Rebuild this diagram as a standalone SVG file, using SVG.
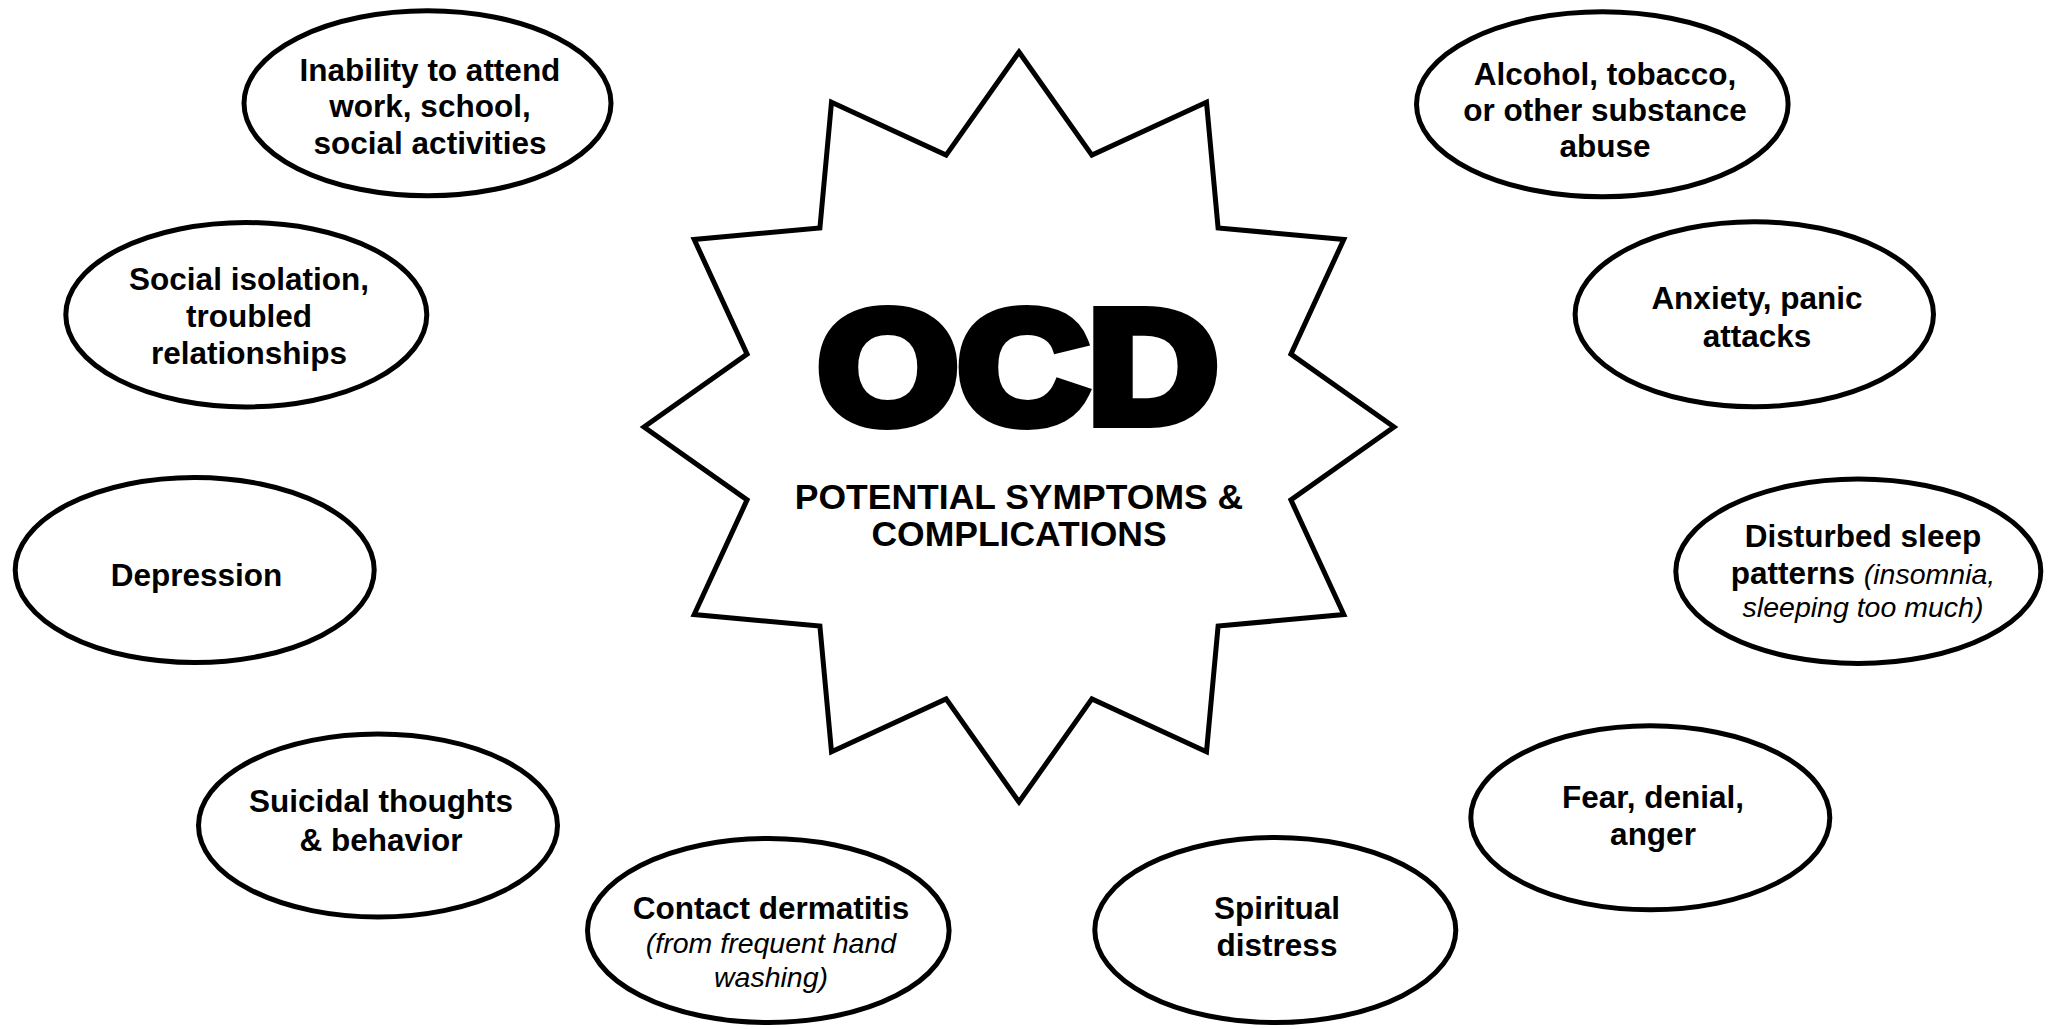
<svg xmlns="http://www.w3.org/2000/svg" width="2049" height="1029" viewBox="0 0 2049 1029">
<style>
.bg{fill:#ffffff}
.shape{fill:#ffffff;stroke:#000000;stroke-width:5;stroke-linejoin:miter}
.lbl{font-family:"Liberation Sans",Arial,sans-serif;font-weight:bold;font-size:31.5px;fill:#000000;text-anchor:middle}
.it{font-weight:normal;font-style:italic;font-size:28.5px}
.ocd{font-family:"Liberation Sans",Arial,sans-serif;font-weight:bold;font-size:160px;fill:#000000;stroke:#000000;stroke-width:12;stroke-linejoin:miter}
.sub{font-family:"Liberation Sans",Arial,sans-serif;font-weight:bold;font-size:35.5px;fill:#000000;text-anchor:middle}
</style>
<rect class="bg" x="0" y="0" width="2049" height="1029"/>
<g id="connectors"></g>
<g id="center">
<polygon class="shape" points="1019,52 1091.9,155.1 1206.5,102.2 1218.1,227.9 1343.8,239.5 1290.9,354.1 1394,427 1290.9,499.9 1343.8,614.5 1218.1,626.1 1206.5,751.8 1091.9,698.9 1019,802 946.1,698.9 831.5,751.8 819.9,626.1 694.2,614.5 747.1,499.9 644,427 747.1,354.1 694.2,239.5 819.9,227.9 831.5,102.2 946.1,155.1"/>
<text class="ocd" x="818" y="422" textLength="400" lengthAdjust="spacingAndGlyphs">OCD</text>
<text class="sub" x="1019" y="508.5">POTENTIAL SYMPTOMS &amp;</text>
<text class="sub" x="1019" y="546">COMPLICATIONS</text>
</g>
<g id="inability">
<ellipse class="shape" cx="427.5" cy="103.3" rx="183.5" ry="92.5"/>
<text class="lbl" x="430" y="80.5">Inability to attend</text>
<text class="lbl" x="430" y="117">work, school,</text>
<text class="lbl" x="430" y="153.5">social activities</text>
</g>
<g id="social">
<ellipse class="shape" cx="246.3" cy="314.7" rx="180.5" ry="92.2"/>
<text class="lbl" x="249" y="289.5">Social isolation,</text>
<text class="lbl" x="249" y="326.5">troubled</text>
<text class="lbl" x="249" y="363.5">relationships</text>
</g>
<g id="depression">
<ellipse class="shape" cx="194.7" cy="570" rx="179.5" ry="92.5"/>
<text class="lbl" x="196.5" y="585.5">Depression</text>
</g>
<g id="suicidal">
<ellipse class="shape" cx="378" cy="825.5" rx="179.5" ry="91.5"/>
<text class="lbl" x="381" y="812">Suicidal thoughts</text>
<text class="lbl" x="381" y="850.5">&amp; behavior</text>
</g>
<g id="contact">
<ellipse class="shape" cx="768.3" cy="930.5" rx="180.8" ry="92"/>
<text class="lbl" x="771" y="918.5">Contact dermatitis</text>
<text class="lbl it" x="771" y="952.7">(from frequent hand</text>
<text class="lbl it" x="771" y="986.7">washing)</text>
</g>
<g id="spiritual">
<ellipse class="shape" cx="1275.3" cy="930" rx="180.5" ry="92.5"/>
<text class="lbl" x="1277" y="919">Spiritual</text>
<text class="lbl" x="1277" y="956">distress</text>
</g>
<g id="fear">
<ellipse class="shape" cx="1650.3" cy="817.8" rx="179.5" ry="92"/>
<text class="lbl" x="1653" y="808.3">Fear, denial,</text>
<text class="lbl" x="1653" y="845">anger</text>
</g>
<g id="sleep">
<ellipse class="shape" cx="1858.3" cy="571.3" rx="182.5" ry="92.2"/>
<text class="lbl" x="1863" y="546.7">Disturbed sleep</text>
<text class="lbl" x="1863" y="584">patterns <tspan class="it">(insomnia,</tspan></text>
<text class="lbl it" x="1863" y="617.3">sleeping too much)</text>
</g>
<g id="anxiety">
<ellipse class="shape" cx="1754.3" cy="314.3" rx="179.2" ry="92.5"/>
<text class="lbl" x="1757" y="309">Anxiety, panic</text>
<text class="lbl" x="1757" y="346.7">attacks</text>
</g>
<g id="alcohol">
<ellipse class="shape" cx="1602.3" cy="104.3" rx="185.8" ry="92.5"/>
<text class="lbl" x="1605" y="84.5">Alcohol, tobacco,</text>
<text class="lbl" x="1605" y="121">or other substance</text>
<text class="lbl" x="1605" y="157">abuse</text>
</g>
</svg>
